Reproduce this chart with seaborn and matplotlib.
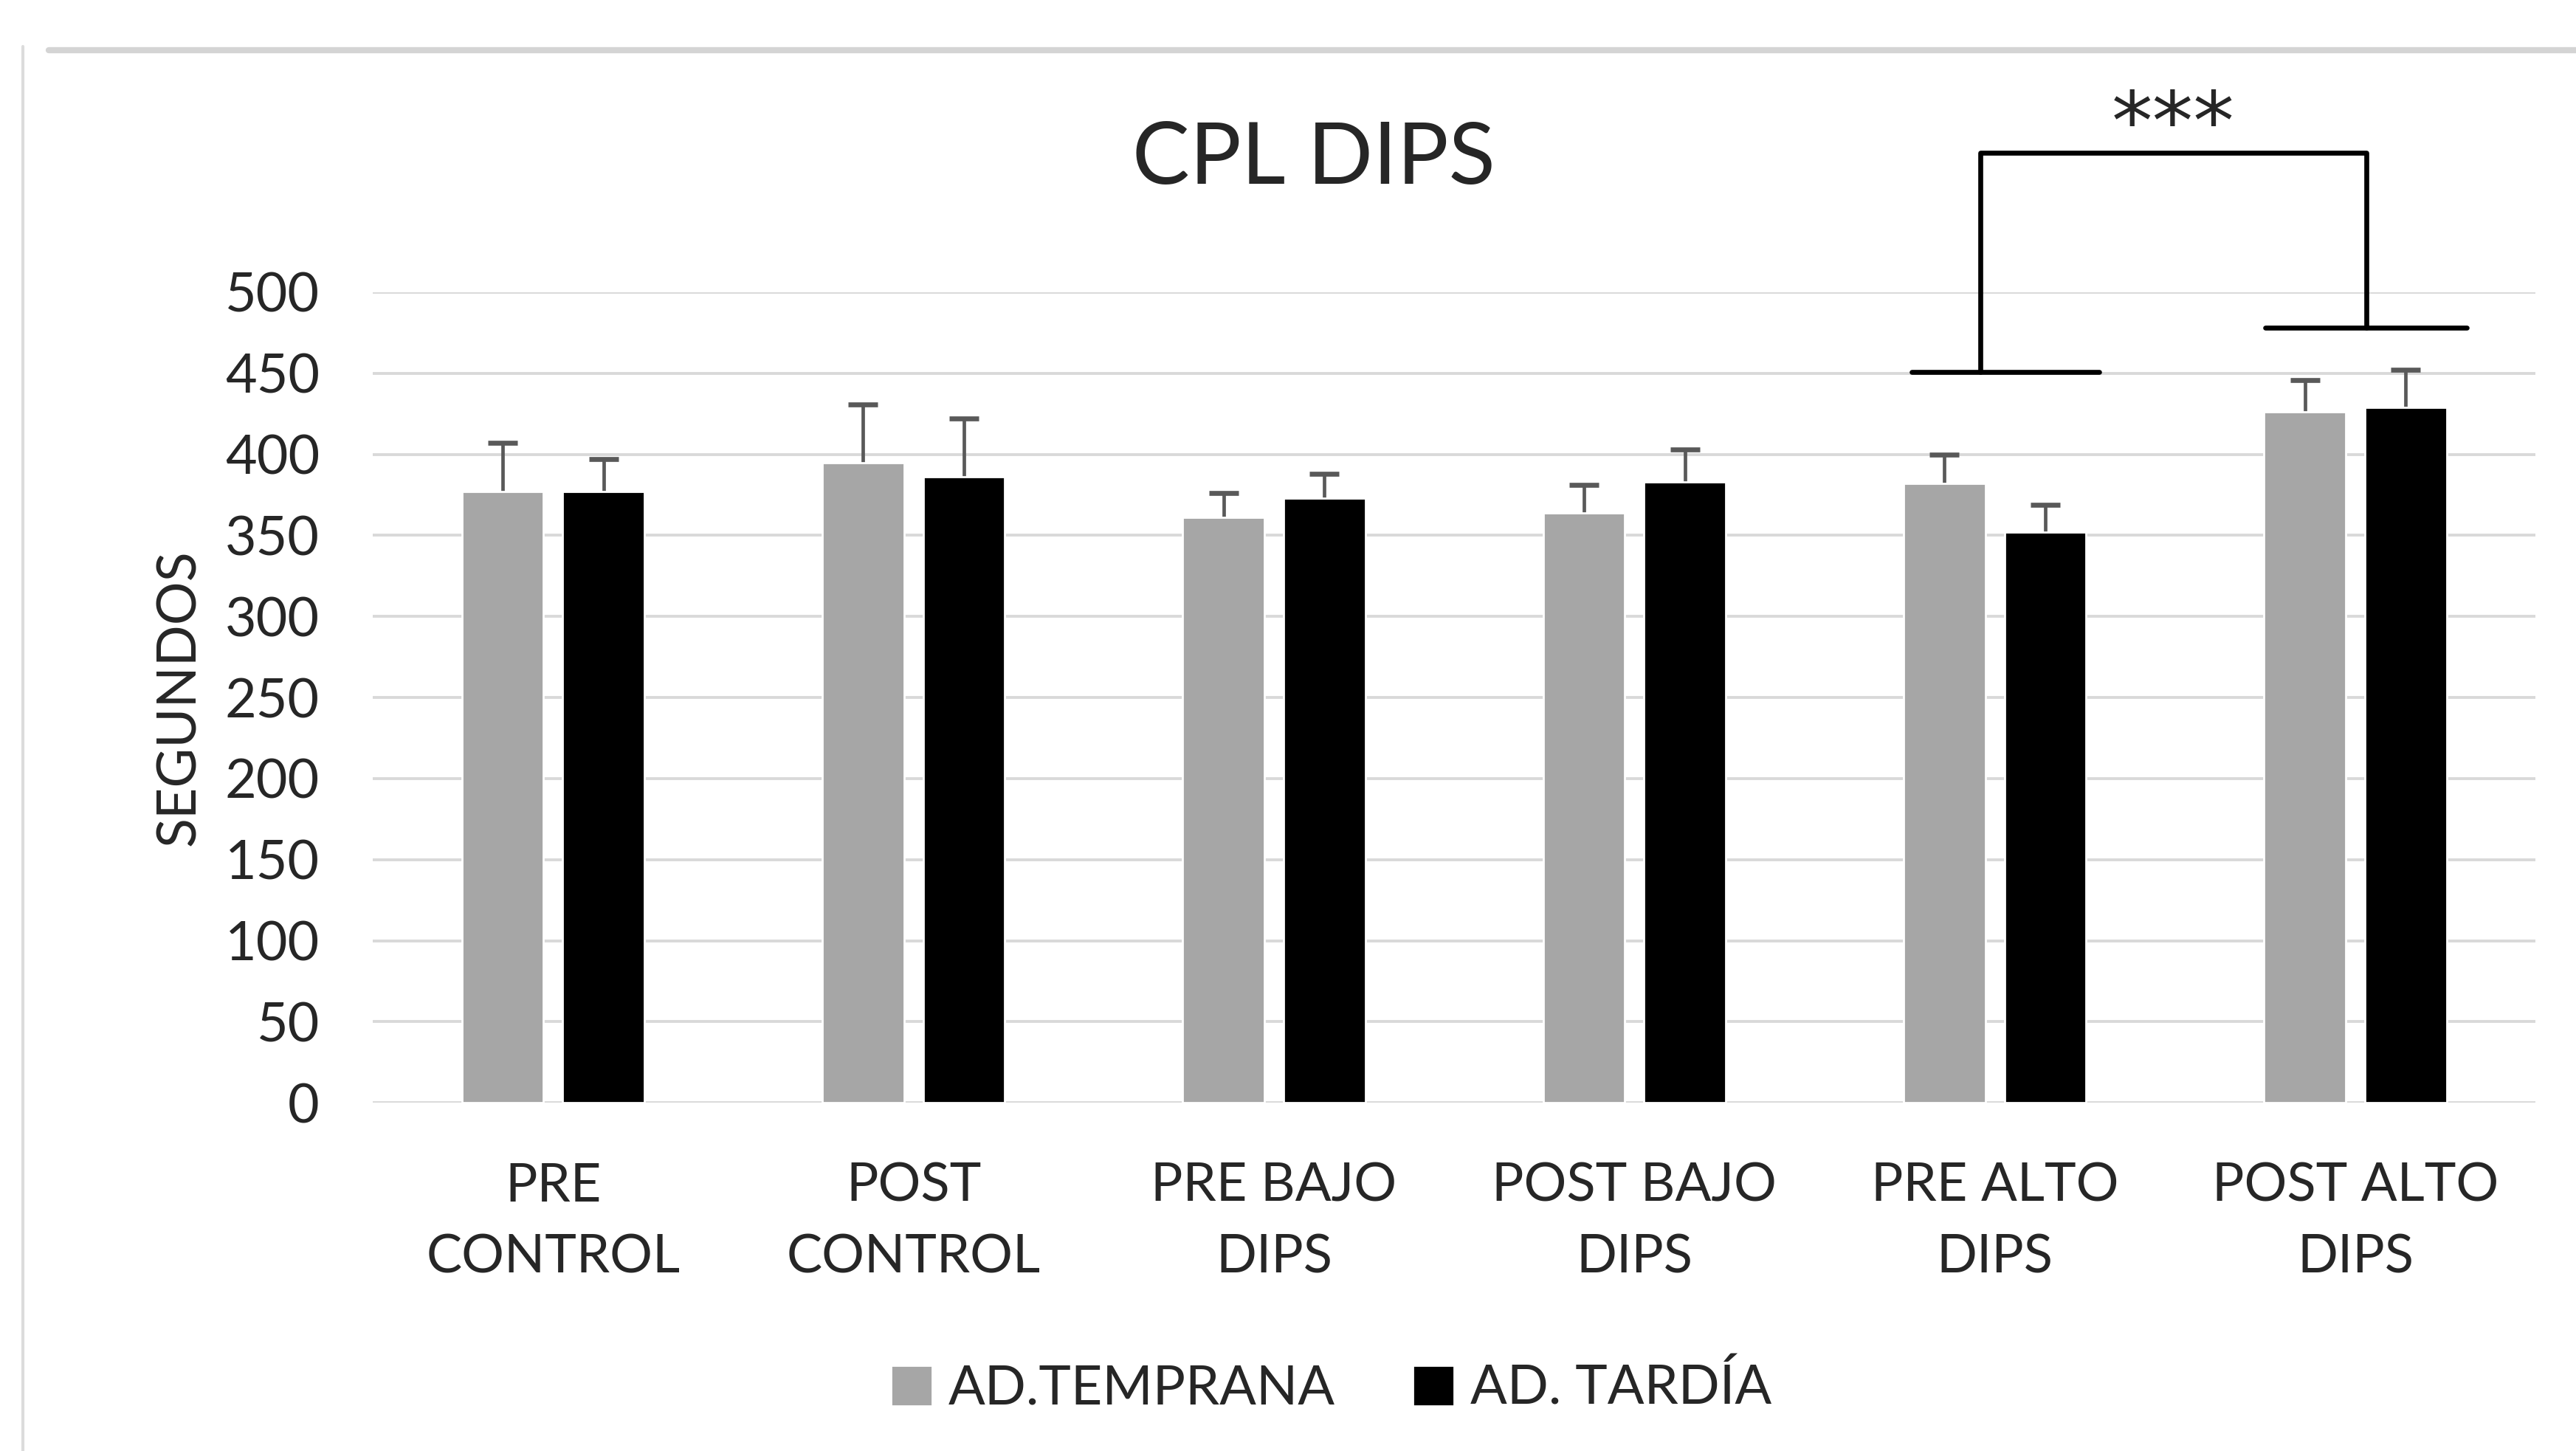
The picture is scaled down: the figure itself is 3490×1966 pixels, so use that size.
import numpy as np
import pandas as pd
import seaborn as sns
import matplotlib.pyplot as plt
from matplotlib.lines import Line2D

# data
categories = ["PRE\nCONTROL", "POST\nCONTROL", "PRE BAJO\nDIPS",
              "POST BAJO\nDIPS", "PRE ALTO\nDIPS", "POST ALTO\nDIPS"]
groups = ["AD.TEMPRANA", "AD. TARDÍA"]
temprana = [377, 395, 361, 364, 382, 426]
tardia = [377, 386, 373, 383, 352, 429]
err_temprana = [30, 36, 15, 17, 18, 20]
err_tardia = [20, 36, 15, 20, 17, 23]

# significance bracket (data coords)
left_bar_x = [3.77, 4.29]
left_bar_y = 451
right_bar_x = [4.75, 5.31]
right_bar_y = 478
bracket_x = [3.96, 5.03]
bracket_top = 586
stars = "***"

colors = ["#a6a6a6", "#000000"]

sns.set_theme(style="white")
plt.rcParams['font.family'] = ['Lato', 'DejaVu Sans']

df = pd.DataFrame({
    "cat": categories * 2,
    "group": [groups[0]] * 6 + [groups[1]] * 6,
    "val": temprana + tardia,
})

fig = plt.figure(figsize=(17.455, 9.83), dpi=200)
ax = fig.add_axes([0.1447, 0.240, 0.8393, 0.5586])

sns.barplot(data=df, x="cat", y="val", hue="group", palette=colors,
            width=0.56, gap=0.19, errorbar=None, saturation=1, ax=ax)

# one-sided error bars (upper only)
for cont, errs in zip(ax.containers, [err_temprana, err_tardia]):
    xs = np.array([p.get_x() + p.get_width() / 2 for p in cont.patches])
    hs = np.array([p.get_height() for p in cont.patches])
    tops = hs + np.array(errs)
    ax.vlines(xs, hs, tops, color="#595959", linewidth=1.7, zorder=0.8)
    ax.scatter(xs, tops, marker="_", s=200, linewidths=2.4,
               color="#595959", zorder=0.8)

ax.set_ylim(0, 500)
ax.set_xlim(-0.5, 5.5)
ax.set_yticks(np.arange(0, 501, 50))
ax.yaxis.grid(True, color="#d9d9d9", linewidth=1.4)
ax.set_axisbelow(True)
for s in ax.spines.values():
    s.set_visible(False)
ax.tick_params(axis="x", length=0, pad=29, labelsize=26)
ax.tick_params(axis="y", length=0, pad=26, labelsize=26.5)
for lab in ax.get_xticklabels():
    lab.set_linespacing(1.6)
ax.set_xlabel("")
ax.set_ylabel("SEGUNDOS", fontsize=26.5, labelpad=10)

# bracket
kw = dict(color="black", linewidth=2.4, clip_on=False)
ax.plot(left_bar_x, [left_bar_y] * 2, **kw)
ax.plot(right_bar_x, [right_bar_y] * 2, **kw)
ax.plot([bracket_x[0], bracket_x[0], bracket_x[1], bracket_x[1]],
        [left_bar_y, bracket_top, bracket_top, right_bar_y], **kw)
ax.text(np.mean(bracket_x), bracket_top + 2, stars, ha="center",
        va="baseline", fontsize=40, family="DejaVu Sans", clip_on=False)

fig.text(0.51, 0.89, "CPL DIPS", ha="center", va="center", fontsize=42)

ax.legend(loc="center", bbox_to_anchor=(0.5166, 0.043),
          bbox_transform=fig.transFigure, ncol=2, frameon=False,
          fontsize=26.5, handlelength=0.76, handleheight=0.76,
          handletextpad=0.3, columnspacing=1.43)

# outer frame of the chart area
fig.add_artist(Line2D([0.019, 1.0], [0.9654, 0.9654], color="#d4d4d4",
                      linewidth=3, transform=fig.transFigure))
fig.add_artist(Line2D([0.009, 0.009], [0.0, 0.968], color="#dcdcdc",
                      linewidth=1.5, transform=fig.transFigure))

fig.savefig("out.png", dpi=200, facecolor="white")
